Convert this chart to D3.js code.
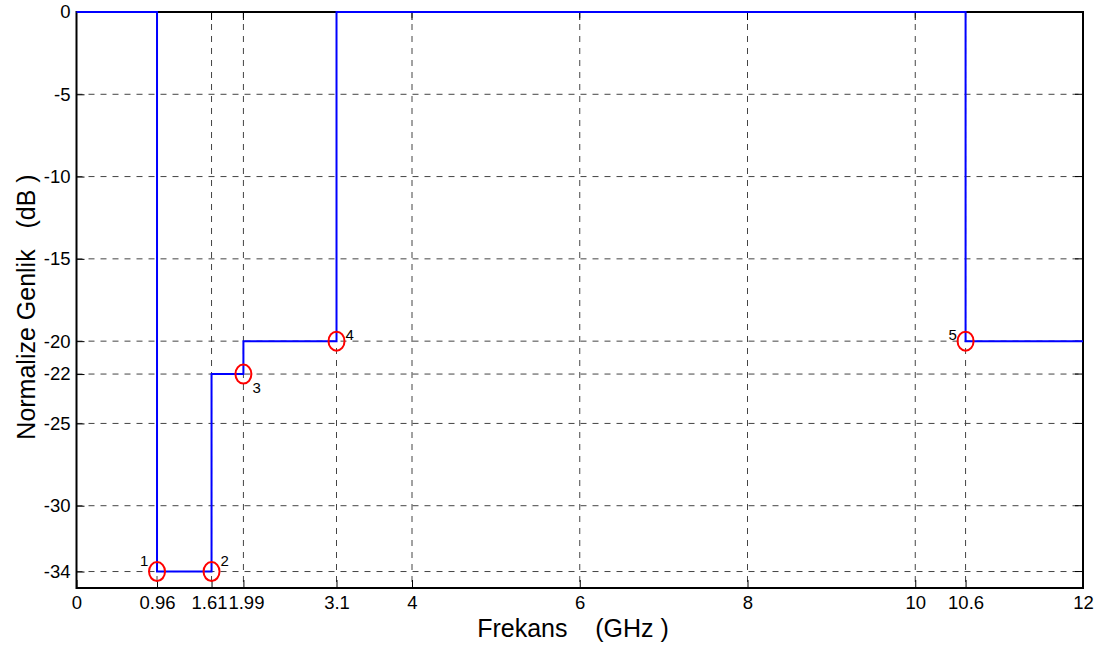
<!DOCTYPE html>
<html lang="tr">
<head>
<meta charset="UTF-8">
<title>Normalize Genlik</title>
<script src="https://d3js.org/d3.v7.min.js"></script>
<style>
  body { margin: 0; background: #fff; }
  svg { display: block; font-family: "Liberation Sans", Arial, sans-serif; }
</style>
</head>
<body>
<svg id="chart" width="1105" height="648"></svg>
<script>
// step breakpoints (GHz) and level starting at each breakpoint (dB)
const freqs  = [0, 0.96, 1.61, 1.99, 3.1, 10.6, 12];
const levels = [0, -34, -22, -20, 0, -20, -20];

// marked points
const markX = [0.96, 1.61, 1.99, 3.1, 10.6];
const markY = [-34, -34, -22, -20, -20];
const markLabels = ["1", "2", "3", "4", "5"];

const xTicks = [0, 0.96, 1.61, 1.99, 3.1, 4, 6, 8, 10, 10.6, 12];
const yTicks = [0, -5, -10, -15, -20, -22, -25, -30, -34];

const margin = {top: 12, right: 22, bottom: 60, left: 76.5};
const W = 1105, H = 648;
const width = W - margin.left - margin.right,
      height = 588 - margin.top;

const svg = d3.select("#chart");
const g = svg.append("g").attr("transform", `translate(${margin.left},${margin.top})`);

const x = d3.scaleLinear().domain([0, 12]).range([0, width]);
const y = d3.scaleLinear().domain([-35, 0]).range([height, 0]);

// grid
g.append("g").selectAll("line").data(xTicks.slice(1, -1)).join("line")
  .attr("x1", d => x(d)).attr("x2", d => x(d))
  .attr("y1", 0).attr("y2", height)
  .attr("stroke", "#444").attr("stroke-width", 1).attr("stroke-dasharray", "6,6");
g.append("g").selectAll("line").data(yTicks.slice(1)).join("line")
  .attr("x1", 0).attr("x2", width)
  .attr("y1", d => y(d)).attr("y2", d => y(d))
  .attr("stroke", "#444").attr("stroke-width", 1).attr("stroke-dasharray", "6,6");

// axes
const xAxis = g.append("g").attr("transform", `translate(0,${height})`)
  .call(d3.axisBottom(x).tickValues(xTicks).tickFormat(d => String(d)).tickSize(-8).tickPadding(8));
const yAxis = g.append("g")
  .call(d3.axisLeft(y).tickValues(yTicks).tickFormat(d => String(d)).tickSize(-8).tickPadding(6));
[xAxis, yAxis].forEach(a => {
  a.select(".domain").remove();
  a.selectAll(".tick line").attr("stroke", "#000");
  a.selectAll("text").attr("font-size", 18.5).attr("fill", "#000")
    .attr("font-family", "Liberation Sans, Arial, sans-serif");
});
// 1.61 and 1.99 sit very close; nudge apart a little
xAxis.selectAll(".tick text").attr("dx", d => d === 1.61 ? -2.5 : d === 1.99 ? 2.5 : 0);

// top/right ticks
g.append("g").selectAll("line").data(xTicks).join("line")
  .attr("x1", d => x(d)).attr("x2", d => x(d)).attr("y1", 0).attr("y2", 8).attr("stroke", "#000");
g.append("g").selectAll("line").data(yTicks).join("line")
  .attr("x1", width).attr("x2", width - 8).attr("y1", d => y(d)).attr("y2", d => y(d)).attr("stroke", "#000");

// frame
g.append("rect").attr("width", width).attr("height", height)
  .attr("fill", "none").attr("stroke", "#000").attr("stroke-width", 2);

// step line
const pts = freqs.map((f, i) => [f, levels[i]]);
const line = d3.line().curve(d3.curveStepAfter).x(d => x(d[0])).y(d => y(d[1]));
g.append("path").datum(pts).attr("d", line)
  .attr("fill", "none").attr("stroke", "#0000ff").attr("stroke-width", 2);

// markers
const marks = markX.map((v, i) => ({x: v, y: markY[i], label: markLabels[i]}));
g.append("g").selectAll("ellipse").data(marks).join("ellipse")
  .attr("cx", d => x(d.x)).attr("cy", d => y(d.y))
  .attr("rx", 8).attr("ry", 9.5)
  .attr("fill", "none").attr("stroke", "#ff0000").attr("stroke-width", 2);

const labelOffset = {"1": [-17, -6], "2": [9, -6], "3": [9, 19], "4": [9, -1], "5": [-17, -1]};
g.append("g").selectAll("text").data(marks).join("text")
  .attr("x", d => x(d.x) + labelOffset[d.label][0])
  .attr("y", d => y(d.y) + labelOffset[d.label][1])
  .attr("font-size", 15).attr("fill", "#000")
  .text(d => d.label);

// axis titles
svg.append("text")
  .attr("x", 573).attr("y", 637)
  .attr("text-anchor", "middle").attr("font-size", 25)
  .attr("xml:space", "preserve")
  .text("Frekans    (GHz )");
svg.append("text")
  .attr("transform", "translate(35,307) rotate(-90)")
  .attr("text-anchor", "middle").attr("font-size", 25)
  .attr("xml:space", "preserve")
  .text("Normalize Genlik   (dB )");
</script>
</body>
</html>
